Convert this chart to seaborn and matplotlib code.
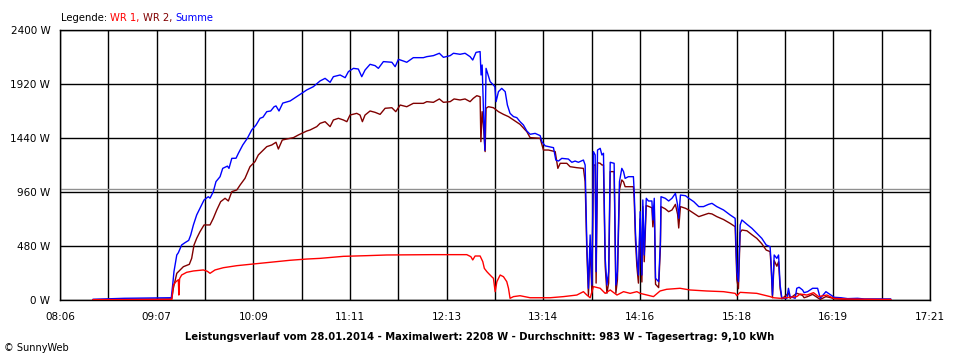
import numpy as np
import pandas as pd
import matplotlib
matplotlib.use("Agg")
import matplotlib.pyplot as plt
import seaborn as sns

# Zeitachse in Minuten seit Mitternacht, Leistung in W
summe_min = [507, 527, 553, 557, 558, 558.7, 560.5, 561.5, 563.6, 565.8, 568.1, 569.4, 571.1, 573.2,
             575.8, 577.9, 580.6, 581.7, 583.8, 585.5, 588.1, 589.8, 592.8, 593.8, 595.6, 598.3,
             599.8, 602.6, 605.5, 608.3, 611.1, 613.6, 615.5, 617.9, 620.4, 622.6, 623.8, 625.7,
             628.1, 632.8, 636, 640.2, 643.4, 647.6, 651.9, 655.1, 658.3, 660.4, 664.7, 667.9,
             670, 673.2, 676.3, 678.5, 680.6, 683.8, 687, 689.1, 692.3, 697.7, 699.8, 701.9,
             705.1, 707.2, 711.4, 717.8, 720, 724.2, 728, 730.6, 734.9, 737, 741.2, 744.4,
             747.6, 749.3, 751.4, 754, 754.6, 755.3, 756.1, 757, 757.8, 759.3, 760.4, 762.5,
             763.4, 764.2, 765.7, 767.8, 770, 771.4, 773.1, 775.3, 777.4, 779.5, 781.6, 783.8,
             785.9, 789.1, 792.3, 793.4, 795.5, 800.8, 802.3, 804, 806.1, 810.3, 812.5, 814.6,
             816.7, 819.9, 821, 822.1, 823.1, 824.2, 825.3, 826.3, 827.4, 828, 828.9, 830.6,
             831.7, 832.7, 833.8, 834.9, 836, 837, 839.5, 840.6, 841.6, 842.9, 844.4, 845.5,
             846.5, 848.6, 851.8, 852.3, 853.1, 854, 855, 856.1, 857.2, 857.8, 858.7, 860,
             861.4, 863.6, 864.2, 865.1, 865.9, 867.9, 869, 869.4, 872.1, 874.3, 876.4, 878.6,
             880, 880.7, 881.8, 885, 887.1, 890.3, 893.5, 896.5, 899.7, 901.9, 905, 909.3,
             913.5, 916.7, 917.8, 918.8, 919.9, 921, 924.2, 927.4, 930.5, 933.7, 936.5, 939,
             939.7, 940.5, 941.6, 943.3, 944.4, 945.4, 946.5, 949.7, 950.7, 951.8, 955, 956,
             957.5, 959.7, 960.7, 962.9, 966.1, 969.3, 971, 974.6, 977.8, 979.9, 984.2, 988.5,
             994.8, 999.1, 1016]
summe_w = [6, 15, 20, 20, 150, 252, 400, 420, 489, 510, 530, 578, 667, 756,
           830, 889, 918, 905, 963, 1052, 1096, 1170, 1190, 1170, 1259, 1260,
           1304, 1378, 1437, 1511, 1556, 1615, 1625, 1674, 1680, 1718, 1725, 1680,
           1750, 1769, 1798, 1837, 1867, 1896, 1947, 1970, 1935, 1985, 2000, 1976,
           2030, 2059, 2053, 1985, 2044, 2095, 2083, 2059, 2119, 2113, 2074, 2139,
           2124, 2113, 2154, 2154, 2163, 2172, 2193, 2157, 2172, 2193, 2184, 2193,
           2163, 2133, 2201, 2208, 2000, 2089, 1704, 1330, 2059, 1990, 1941, 1911,
           1896, 1763, 1852, 1881, 1852, 1733, 1659, 1630, 1621, 1585, 1556, 1502,
           1473, 1481, 1461, 1407, 1370, 1354, 1244, 1235, 1259, 1253, 1224, 1235,
           1224, 1244, 1200, 489, 104, 578, 133, 1319, 1289, 252, 1333, 1348,
           1289, 1304, 370, 133, 252, 1224, 1215, 133, 252, 1052, 1170, 1141,
           1081, 1096, 1096, 963, 607, 370, 222, 785, 222, 889, 400, 904,
           880, 880, 711, 904, 193, 163, 519, 918, 904, 880, 904, 948,
           844, 726, 933, 927, 904, 874, 830, 830, 850, 859, 830, 800,
           756, 726, 252, 163, 667, 711, 673, 637, 593, 548, 489, 474,
           311, 44, 400, 370, 400, 133, 15, 15, 104, 30, 15, 104,
           113, 89, 65, 74, 104, 104, 15, 74, 44, 24, 20, 12,
           15, 9, 9]

wr2_min = [507, 557.3, 558.3, 560.5, 562.6, 564.7, 568.5, 570, 571.5, 573.2, 575.3, 577.9,
           581.7, 583.8, 586, 588.5, 591.3, 593.4, 595.6, 598.8, 600.9, 604, 607.2, 610.4,
           612.5, 615.7, 617.9, 621.1, 623.8, 625.3, 627.8, 630.7, 634.9, 638.1, 643.4, 645.5,
           649.8, 651.9, 655.1, 658.3, 660.4, 663.6, 666.8, 669, 671, 675.3, 677.4, 678.9,
           680.6, 683.8, 687, 690.2, 693.4, 697.7, 700.2, 703, 707.2, 711.4, 717.8, 720,
           724.2, 728, 730.6, 734.9, 737.4, 741.2, 744.4, 747.6, 749.7, 751.9, 754, 754.5,
           755.3, 756.1, 757.2, 757.8, 759.3, 762.5, 765.7, 768.9, 772.1, 775.3, 779.5, 783.8,
           785.9, 792.3, 794.4, 797.6, 801.9, 803.6, 805.1, 809.3, 811.4, 815.7, 819.9, 821,
           822.1, 823.1, 824.2, 825.3, 826.3, 827.4, 828, 828.9, 830.6, 831.7, 832.7, 833.8,
           834.9, 836, 837, 839.5, 840.6, 841.6, 842.9, 844.4, 845.5, 846.5, 851.8, 852.3,
           853.1, 854, 855, 856.1, 857.2, 857.8, 858.7, 860, 863.6, 864.2, 865.1, 865.9,
           867.9, 869, 869.4, 872.1, 874.3, 876.4, 878.6, 880, 880.7, 881.8, 885, 887.1,
           890.3, 893.5, 899.7, 901.9, 905, 909.3, 913.5, 916.7, 917.8, 918.8, 919.9, 921,
           924.2, 927.4, 930.5, 933.7, 936.5, 939, 939.7, 940.5, 941.6, 943.3, 944.4, 945.4,
           946.5, 950.7, 951.8, 956, 959.7, 960.7, 962.9, 966.1, 971, 974.6, 977.8, 979.9,
           988.5, 1016]
wr2_w = [3, 9, 104, 237, 267, 296, 317, 370, 489, 548, 607, 667,
         667, 726, 800, 874, 904, 880, 963, 978, 1022, 1081, 1185, 1230,
         1289, 1333, 1363, 1378, 1402, 1342, 1422, 1431, 1443, 1467, 1502, 1511,
         1541, 1570, 1585, 1541, 1600, 1615, 1600, 1585, 1644, 1659, 1644, 1585,
         1644, 1680, 1668, 1650, 1704, 1709, 1674, 1733, 1718, 1748, 1748, 1763,
         1757, 1787, 1757, 1763, 1787, 1778, 1787, 1763, 1793, 1816, 1807, 1407,
         1674, 1556, 1319, 1704, 1718, 1709, 1674, 1650, 1630, 1600, 1561, 1496,
         1443, 1437, 1333, 1333, 1319, 1170, 1215, 1215, 1185, 1176, 1170, 1052,
         420, 40, 500, 60, 1200, 1200, 150, 1220, 1215, 1200, 1200, 300,
         60, 150, 1141, 1141, 60, 180, 980, 1067, 1050, 1007, 1007, 900,
         530, 300, 150, 720, 160, 830, 340, 840, 820, 650, 840, 140,
         110, 460, 830, 810, 785, 800, 850, 760, 640, 830, 815, 800,
         770, 741, 770, 765, 741, 715, 681, 652, 180, 100, 600, 622,
         615, 580, 548, 500, 444, 430, 280, 20, 350, 300, 340, 100,
         10, 60, 15, 60, 40, 20, 30, 50, 5, 30, 20, 10,
         5, 5]

wr1_min = [507, 557.3, 558.3, 560, 561.5, 561.8, 562.3, 563.6, 566.8, 571.1, 577.4, 580,
           581.7, 584.9, 590.2, 598.8, 607.2, 620, 632.8, 643.4, 651.9, 666.8, 681.7, 694.4,
           724.2, 745.5, 748.1, 749.3, 750.8, 754, 755.7, 756.7, 758.3, 759.3, 761.4, 762.5,
           763.6, 764.7, 766.8, 768.9, 771, 772.1, 773.1, 775.3, 779.5, 785.9, 798.7, 807.2,
           815.7, 819.9, 822.1, 824.2, 826.3, 830.6, 833.8, 837, 841.3, 845.5, 849.7, 854,
           856.1, 864.6, 868.8, 873, 881.5, 887.9, 898.5, 909.3, 916.7, 917.8, 919.9, 930.5,
           939, 941.1, 945.4, 956, 958.2, 962.5, 966.7, 969.9, 975.2, 979.5, 988, 1009, 1016]
wr1_w = [3, 5, 133, 163, 180, 44, 190, 222, 246, 258, 267, 255,
         237, 267, 287, 305, 317, 335, 353, 364, 370, 388, 394, 400,
         403, 403, 385, 356, 391, 391, 341, 281, 252, 237, 207, 193,
         74, 163, 222, 207, 163, 104, 15, 30, 38, 20, 20, 30,
         44, 74, 44, 20, 119, 104, 59, 89, 44, 74, 59, 74,
         59, 30, 80, 95, 104, 89, 80, 74, 59, 38, 68, 59,
         30, 20, 15, 30, 53, 44, 65, 30, 44, 15, 9, 5, 5]

zeit_labels = ["08:06", "09:07", "10:09", "11:11", "12:13", "13:14", "14:16", "15:18", "16:19", "17:21"]
zeit_start, zeit_ende = 486, 1041
durchschnitt = 983
y_ticks = [0, 480, 960, 1440, 1920, 2400]

farben = {"WR 1": "#ff0000", "WR 2": "#800000", "Summe": "#0000ff"}

df = pd.concat([
    pd.DataFrame({"zeit": wr2_min, "watt": wr2_w, "serie": "WR 2"}),
    pd.DataFrame({"zeit": summe_min, "watt": summe_w, "serie": "Summe"}),
    pd.DataFrame({"zeit": wr1_min, "watt": wr1_w, "serie": "WR 1"}),
], ignore_index=True)

sns.set_style("white")
plt.rcParams["font.family"] = ["DejaVu Sans"]
plt.rcParams["text.color"] = "black"

fig = plt.figure(figsize=(9.6, 3.6), dpi=100)
ax = fig.add_axes([0.0625, 0.1667, 0.90625, 0.75])

sns.lineplot(data=df, x="zeit", y="watt", hue="serie", hue_order=["WR 2", "Summe", "WR 1"],
             palette=farben, estimator=None, sort=False,
             linewidth=1.0, legend=False, ax=ax, zorder=3)

# Durchschnittslinie
ax.axhline(durchschnitt, color="#909090", lw=1.0, zorder=2)

ax.set_xlim(zeit_start, zeit_ende)
ax.set_ylim(0, 2400)
pos = np.linspace(zeit_start, zeit_ende, 2 * len(zeit_labels) - 1)
labels = [zeit_labels[i // 2] if i % 2 == 0 else "" for i in range(len(pos))]
ax.set_xticks(pos)
ax.set_xticklabels(labels)
ax.set_yticks(y_ticks)
ax.set_yticklabels([f"{v} W" for v in y_ticks])
ax.set_xlabel("")
ax.set_ylabel("")
ax.grid(True, color="black", lw=1, zorder=1)
ax.tick_params(axis="both", direction="out", length=4, width=1, color="black",
               labelcolor="black", labelsize=7.5, pad=3)
ax.tick_params(axis="x", pad=5)
for s in ax.spines.values():
    s.set_visible(True)
    s.set_color("black")
    s.set_linewidth(1)

# Legende als farbiger Text
prev = fig.text(61 / 960, 1 - 21 / 360, "Legende: ", color="black", fontsize=7.2, va="baseline")
for name, txt in [("WR 1", "WR 1, "), ("WR 2", "WR 2, "), ("Summe", "Summe")]:
    prev = ax.annotate(txt, xy=(1, 0), xycoords=prev, va="bottom", ha="left",
                       color=farben[name], fontsize=7.2, annotation_clip=False)

fig.text(0.5, 1 - 337 / 360,
         "Leistungsverlauf vom 28.01.2014 - Maximalwert: 2208 W - Durchschnitt: 983 W - Tagesertrag: 9,10 kWh",
         ha="center", va="center", fontsize=7.2, fontweight="bold", color="black")
fig.text(4 / 960, 1 - 348 / 360, "© SunnyWeb", ha="left", va="center", fontsize=7, color="black")

plt.savefig("out.png", dpi=100)
plt.close()
